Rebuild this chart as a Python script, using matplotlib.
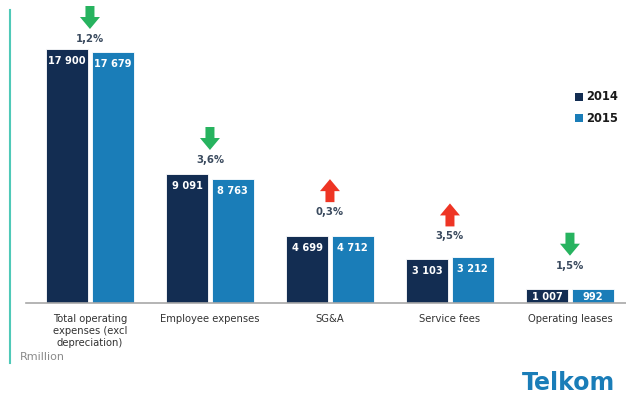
import matplotlib
matplotlib.use("Agg")
import matplotlib.pyplot as plt
from matplotlib.patches import Polygon
from matplotlib.lines import Line2D
from matplotlib.transforms import Affine2D
import numpy as np

# ---------- data ----------
categories = ["Total operating\nexpenses (excl\ndepreciation)", "Employee expenses",
              "SG&A", "Service fees", "Operating leases"]
vals_2014 = [17900, 9091, 4699, 3103, 1007]
vals_2015 = [17679, 8763, 4712, 3212, 992]
labels_2014 = ["17 900", "9 091", "4 699", "3 103", "1 007"]
labels_2015 = ["17 679", "8 763", "4 712", "3 212", "992"]
pct_change = ["1,2%", "3,6%", "0,3%", "3,5%", "1,5%"]
direction = ["down", "down", "up", "up", "down"]

# ---------- style ----------
C14 = "#132d52"
C15 = "#1a7db8"
GREEN = "#27b35f"
RED = "#ee3524"
TXT = "#3a4a5e"
label_gaps = [10, 14, 24, 21, 23]   # px between bar top and % label

W, H, DPI = 626, 401, 100
fig = plt.figure(figsize=(W / DPI, H / DPI), dpi=DPI)
ax = fig.add_axes([26 / W, (H - 303) / H, 600 / W, 303 / H])

x = np.arange(len(categories))
ax.bar(x - 0.19, vals_2014, width=0.35, color=C14, edgecolor="white", linewidth=0.6, zorder=2)
ax.bar(x + 0.19, vals_2015, width=0.35, color=C15, edgecolor="white", linewidth=0.6, zorder=2)

ax.set_xlim(-0.533, 4.467)
ax.set_ylim(0, 303 * 17900 / 254)
for s in ["top", "right", "left"]:
    ax.spines[s].set_visible(False)
ax.spines["bottom"].set_color("#a8a8a8")
ax.spines["bottom"].set_linewidth(1.2)
ax.set_yticks([])
ax.set_xticks(x)
ax.set_xticklabels(categories, fontsize=7.2, color="#333333", linespacing=1.25)
ax.tick_params(axis="x", length=0, pad=8)

# value labels inside bars
def bar_labels(xs, vals, texts):
    for xi, v, t in zip(xs, vals, texts):
        off = -12 if v > 2000 else -8
        ax.annotate(t, (xi, v), xytext=(0, off), textcoords="offset pixels", ha="center",
                    va="center", color="white", fontsize=7.1, fontweight="bold", zorder=3)

bar_labels(x - 0.19, vals_2014, labels_2014)
bar_labels(x + 0.19, vals_2015, labels_2015)

# arrows + % change
fig.canvas.draw()
arrow_down = [(-4.5, 23), (4.5, 23), (4.5, 12), (10, 12), (0, 0), (-10, 12), (-4.5, 12)]
arrow_up = [(-4.5, 0), (4.5, 0), (4.5, 11), (10, 11), (0, 23), (-10, 11), (-4.5, 11)]
for i in range(len(categories)):
    top = max(vals_2014[i], vals_2015[i])
    px, py = ax.transData.transform((x[i], top))
    ly = py + label_gaps[i]
    ax.annotate(pct_change[i], (x[i], top), xytext=(0, label_gaps[i]), textcoords="offset pixels",
                ha="center", va="center", color=TXT, fontsize=7.3, fontweight="bold")
    verts = arrow_down if direction[i] == "down" else arrow_up
    col = GREEN if direction[i] == "down" else RED
    tr = Affine2D().translate(px, ly + 10)
    fig.patches.append(Polygon(verts, closed=True, facecolor=col, edgecolor="none",
                               transform=tr, figure=fig))

# legend
for j, (c, t) in enumerate([(C14, "2014"), (C15, "2015")]):
    yy = 1 - (97 + 21 * j) / H
    fig.patches.append(plt.Rectangle((575 / W, yy - 4 / H), 8 / W, 8 / H, facecolor=c,
                                     transform=fig.transFigure, figure=fig))
    fig.text(586 / W, yy, t, fontsize=8.3, fontweight="bold", color="#1a1a1a", va="center")

# decoration
fig.lines.append(Line2D([10 / W, 10 / W], [1 - 10 / H, 1 - 363 / H], color="#4fc9b8",
                        linewidth=1.5, transform=fig.transFigure))
fig.text(20 / W, 1 - 357 / H, "Rmillion", fontsize=8, color="#8a8a8a", va="center")
fig.text(615 / W, 1 - 383 / H, "Telkom", fontsize=17, fontweight="bold", color="#1a7db8",
         ha="right", va="center")

fig.savefig("out.png", dpi=DPI)
